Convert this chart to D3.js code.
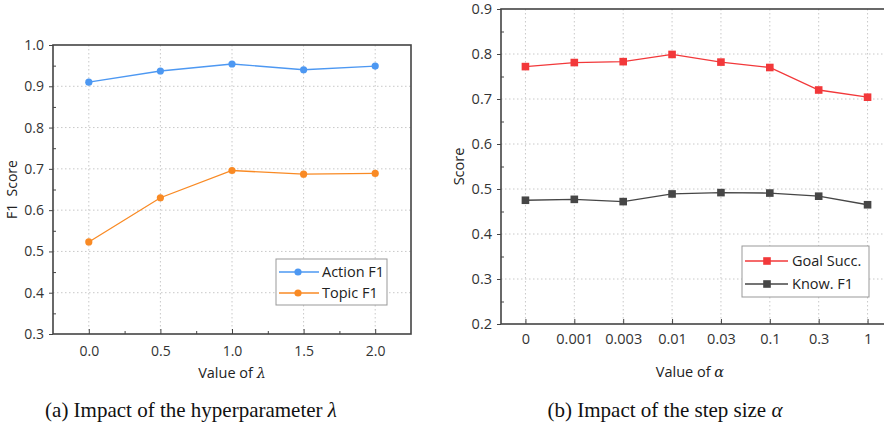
<!DOCTYPE html>
<html>
<head>
<meta charset="utf-8">
<script src="https://cdn.jsdelivr.net/npm/d3@7"></script>
<style>
  body { margin: 0; background: #fff; }
  svg { display: block; }
  .tick text { font-family: "Open Sans", "Noto Sans", sans-serif; fill: #333; }
</style>
</head>
<body>
<div id="chart"></div>
<script>
// ---- data ----
var lambdaValues = [0.0, 0.5, 1.0, 1.5, 2.0];
var actionF1 = [0.910, 0.937, 0.954, 0.940, 0.949];
var topicF1 = [0.523, 0.630, 0.696, 0.687, 0.689];

var alphaLabels = ["0", "0.001", "0.003", "0.01", "0.03", "0.1", "0.3", "1"];
var goalSucc = [0.772, 0.781, 0.783, 0.799, 0.782, 0.770, 0.720, 0.704];
var knowF1 = [0.475, 0.477, 0.472, 0.489, 0.492, 0.491, 0.484, 0.465];

var W = 884, H = 429;
var axisColor = "#444", gridColor = "#c8c8c8";
var font = "'Open Sans', 'Noto Sans', sans-serif";

var svg = d3.select("#chart").append("svg")
    .attr("width", W)
    .attr("height", H);

// ---------- panel (a) ----------
var a = { left: 53, top: 45, right: 411, bottom: 334 };

var xa = d3.scaleLinear().domain([-0.25, 2.25]).range([a.left, a.right]);
var ya = d3.scaleLinear().domain([0.3, 1.0]).range([a.bottom, a.top]);

var ga = svg.append("g");

// grid
ga.selectAll("line.gy").data(d3.range(0.4, 0.95, 0.1)).enter().append("line")
    .attr("x1", a.left).attr("x2", a.right)
    .attr("y1", function(d){ return ya(d); }).attr("y2", function(d){ return ya(d); })
    .attr("stroke", gridColor).attr("stroke-dasharray", "1.5,2.5");
ga.selectAll("line.gx").data(lambdaValues).enter().append("line")
    .attr("x1", function(d){ return xa(d); }).attr("x2", function(d){ return xa(d); })
    .attr("y1", a.top).attr("y2", a.bottom)
    .attr("stroke", gridColor).attr("stroke-dasharray", "1.5,2.5");

// axes
var yAxisA = d3.axisLeft(ya).tickValues(d3.range(0.3, 1.01, 0.1))
    .tickFormat(d3.format(".1f")).tickSizeInner(4).tickSizeOuter(0).tickPadding(5);
ga.append("g").attr("transform", "translate(" + a.left + ",0)").call(yAxisA)
    .call(function(g){ g.selectAll("text").attr("font-size", 14); });
ga.append("g").attr("transform", "translate(" + a.left + ",0)")
    .call(d3.axisRight(ya).tickValues(d3.range(0.35, 1.0, 0.1)).tickSize(3).tickFormat(""));

var xAxisA = d3.axisBottom(xa).tickValues(lambdaValues)
    .tickFormat(d3.format(".1f")).tickSizeInner(-5).tickSizeOuter(0).tickPadding(12);
ga.append("g").attr("transform", "translate(0," + a.bottom + ")").call(xAxisA)
    .call(function(g){ g.selectAll("text").attr("font-size", 14); });
ga.append("g").attr("transform", "translate(0," + a.bottom + ")")
    .call(d3.axisTop(xa).tickValues([0.25, 0.75, 1.25, 1.75]).tickSize(3).tickFormat(""));

ga.selectAll(".domain").remove();
ga.selectAll(".tick line").attr("stroke", axisColor);

// frame
ga.append("rect")
    .attr("x", a.left).attr("y", a.top)
    .attr("width", a.right - a.left).attr("height", a.bottom - a.top)
    .attr("fill", "none").attr("stroke", axisColor).attr("stroke-width", 1.6);

// series
var seriesA = [
    { name: "Action F1", values: actionF1, color: "#4d98f2" },
    { name: "Topic F1", values: topicF1, color: "#f98a24" }
];
var lineA = d3.line()
    .x(function(d, i){ return xa(lambdaValues[i]); })
    .y(function(d){ return ya(d); });

seriesA.forEach(function(s){
    ga.append("path").datum(s.values)
        .attr("d", lineA).attr("fill", "none")
        .attr("stroke", s.color).attr("stroke-width", 1.3);
    ga.selectAll(null).data(s.values).enter().append("circle")
        .attr("cx", function(d, i){ return xa(lambdaValues[i]); })
        .attr("cy", function(d){ return ya(d); })
        .attr("r", 3.6).attr("fill", s.color);
});

// legend
var la = ga.append("g");
la.append("rect").attr("x", 276).attr("y", 259).attr("width", 111).attr("height", 46)
    .attr("fill", "#fff").attr("stroke", "#999").attr("stroke-width", 1);
seriesA.forEach(function(s, i){
    var y = 272 + i * 21;
    la.append("line").attr("x1", 279).attr("x2", 319).attr("y1", y).attr("y2", y)
        .attr("stroke", s.color).attr("stroke-width", 1.3);
    la.append("circle").attr("cx", 298).attr("cy", y).attr("r", 3.6).attr("fill", s.color);
    la.append("text").attr("x", 322).attr("y", y).attr("dy", "0.35em")
        .attr("font-family", font).attr("font-size", 14.5).attr("fill", "#222")
        .text(s.name);
});

// titles
ga.append("text")
    .attr("transform", "translate(17," + ((a.top + a.bottom) / 2) + ") rotate(-90)")
    .attr("text-anchor", "middle").attr("font-family", font).attr("font-size", 14).attr("fill", "#222")
    .attr("xml:space", "preserve")
    .text("F1  Score");
var ta = ga.append("text")
    .attr("x", 232).attr("y", 378).attr("text-anchor", "middle")
    .attr("font-family", font).attr("font-size", 14.5).attr("fill", "#222");
ta.append("tspan").text("Value of  ");
ta.append("tspan").attr("font-family", "'DejaVu Serif', serif").attr("font-style", "italic").text("λ");

// ---------- panel (b) ----------
var b = { left: 501, top: 9, right: 892, bottom: 324 };

var xb = d3.scalePoint().domain(alphaLabels).range([b.left, b.right]).padding(0.5);
var yb = d3.scaleLinear().domain([0.2, 0.9]).range([b.bottom, b.top]);

var gb = svg.append("g");

gb.selectAll("line.gy").data(d3.range(0.3, 0.85, 0.1)).enter().append("line")
    .attr("x1", b.left).attr("x2", b.right)
    .attr("y1", function(d){ return yb(d); }).attr("y2", function(d){ return yb(d); })
    .attr("stroke", gridColor).attr("stroke-dasharray", "1.5,2.5");
gb.selectAll("line.gx").data(alphaLabels).enter().append("line")
    .attr("x1", function(d){ return xb(d); }).attr("x2", function(d){ return xb(d); })
    .attr("y1", b.top).attr("y2", b.bottom)
    .attr("stroke", gridColor).attr("stroke-dasharray", "1.5,2.5");

var yAxisB = d3.axisLeft(yb).tickValues(d3.range(0.2, 0.91, 0.1))
    .tickFormat(d3.format(".1f")).tickSizeInner(4).tickSizeOuter(0).tickPadding(5);
gb.append("g").attr("transform", "translate(" + b.left + ",0)").call(yAxisB)
    .call(function(g){ g.selectAll("text").attr("font-size", 14.5); });
gb.append("g").attr("transform", "translate(" + b.left + ",0)")
    .call(d3.axisRight(yb).tickValues(d3.range(0.25, 0.9, 0.1)).tickSize(3).tickFormat(""));

var xAxisB = d3.axisBottom(xb).tickSizeInner(-5).tickSizeOuter(0).tickPadding(10);
gb.append("g").attr("transform", "translate(0," + b.bottom + ")").call(xAxisB)
    .call(function(g){ g.selectAll("text").attr("font-size", 14.5); });

gb.selectAll(".domain").remove();
gb.selectAll(".tick line").attr("stroke", axisColor);

gb.append("rect")
    .attr("x", b.left).attr("y", b.top)
    .attr("width", b.right - b.left).attr("height", b.bottom - b.top)
    .attr("fill", "none").attr("stroke", axisColor).attr("stroke-width", 1.6);

var seriesB = [
    { name: "Goal Succ.", values: goalSucc, color: "#f2383a" },
    { name: "Know. F1", values: knowF1, color: "#464646" }
];
var lineB = d3.line()
    .x(function(d, i){ return xb(alphaLabels[i]); })
    .y(function(d){ return yb(d); });

seriesB.forEach(function(s){
    gb.append("path").datum(s.values)
        .attr("d", lineB).attr("fill", "none")
        .attr("stroke", s.color).attr("stroke-width", 1.3);
    gb.selectAll(null).data(s.values).enter().append("rect")
        .attr("x", function(d, i){ return xb(alphaLabels[i]) - 3.8; })
        .attr("y", function(d){ return yb(d) - 3.8; })
        .attr("width", 7.6).attr("height", 7.6).attr("fill", s.color);
});

var lb = gb.append("g");
lb.append("rect").attr("x", 742).attr("y", 246).attr("width", 127).attr("height", 51)
    .attr("fill", "#fff").attr("stroke", "#999").attr("stroke-width", 1);
seriesB.forEach(function(s, i){
    var y = 261 + i * 23;
    lb.append("line").attr("x1", 745).attr("x2", 788).attr("y1", y).attr("y2", y)
        .attr("stroke", s.color).attr("stroke-width", 1.3);
    lb.append("rect").attr("x", 767 - 3.8).attr("y", y - 3.8).attr("width", 7.6).attr("height", 7.6)
        .attr("fill", s.color);
    lb.append("text").attr("x", 792).attr("y", y).attr("dy", "0.35em")
        .attr("font-family", font).attr("font-size", 14.5).attr("fill", "#222")
        .text(s.name);
});

gb.append("text")
    .attr("transform", "translate(464," + ((b.top + b.bottom) / 2) + ") rotate(-90)")
    .attr("text-anchor", "middle").attr("font-family", font).attr("font-size", 14.5).attr("fill", "#222")
    .text("Score");
var tb = gb.append("text")
    .attr("x", 690).attr("y", 377).attr("text-anchor", "middle")
    .attr("font-family", font).attr("font-size", 14.5).attr("fill", "#222");
tb.append("tspan").text("Value of ");
tb.append("tspan").attr("font-family", "'DejaVu Serif', serif").attr("font-style", "italic").text("α");

// ---------- captions ----------
var capFont = "'Liberation Serif', 'DejaVu Serif', serif";
var c1 = svg.append("text").attr("x", 191).attr("y", 417).attr("text-anchor", "middle")
    .attr("font-family", capFont).attr("font-size", 21).attr("fill", "#111");
c1.append("tspan").text("(a) Impact of the hyperparameter ");
c1.append("tspan").attr("font-style", "italic").text("λ");
var c2 = svg.append("text").attr("x", 665).attr("y", 417).attr("text-anchor", "middle")
    .attr("font-family", capFont).attr("font-size", 21).attr("fill", "#111");
c2.append("tspan").text("(b) Impact of the step size ");
c2.append("tspan").attr("font-style", "italic").text("α");
</script>
</body>
</html>
